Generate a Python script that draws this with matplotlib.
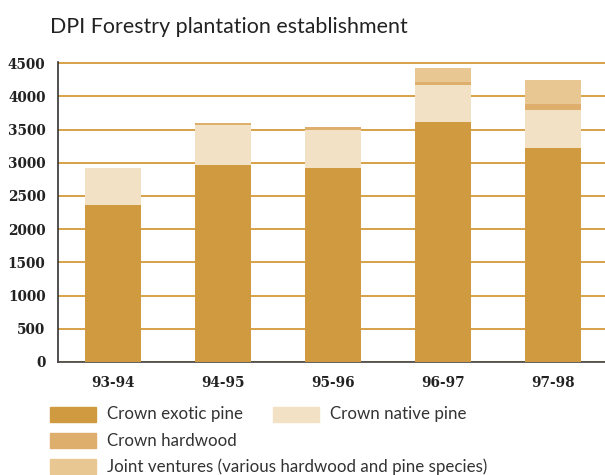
import matplotlib.pyplot as plt
import numpy as np
from matplotlib.patches import Rectangle

# planting figures (hectares) by financial year
years = ["93-94", "94-95", "95-96", "96-97", "97-98"]
exotic_pine = [2360, 2965, 2920, 3610, 3220]
native_pine = [560, 600, 570, 560, 575]
hardwood = [0, 30, 45, 45, 90]
joint_ventures = [0, 0, 0, 210, 360]

series = [exotic_pine, native_pine, hardwood, joint_ventures]
names = ["Crown exotic pine", "Crown native pine", "Crown hardwood",
         "Joint ventures (various hardwood and pine species)"]
colors = ["#d09b40", "#f3e1c5", "#ddae6c", "#e8c793"]

yticks = [0, 500, 1000, 1500, 2000, 2500, 3000, 3500, 4000, 4500]

fig = plt.figure(figsize=(6.05, 4.75), dpi=100)
ax = fig.add_axes([0.0959, 0.2379, 0.9041, 0.6307])

x = np.arange(len(years))
bottom = np.zeros(len(years))
for vals, c in zip(series, colors):
    ax.bar(x, vals, width=0.51, bottom=bottom, color=c, zorder=3)
    bottom += np.array(vals)

ax.set_xlim(-0.5, 4.47)
ax.set_ylim(0, 4510)
ax.set_yticks(yticks)
ax.set_xticks(x)
ax.set_xticklabels(years)
ax.yaxis.grid(True, color="#d39a3a", linewidth=1.3, zorder=1)
ax.set_axisbelow(True)

for s in ["top", "right"]:
    ax.spines[s].set_visible(False)
ax.spines["left"].set_color("#333333")
ax.spines["bottom"].set_color("#444444")
ax.spines["left"].set_linewidth(1.2)
ax.spines["bottom"].set_linewidth(1.2)

ax.tick_params(length=0)
ax.tick_params(axis="y", pad=9)
ax.tick_params(axis="x", pad=10)
for lab in ax.get_xticklabels() + ax.get_yticklabels():
    lab.set_fontfamily("DejaVu Serif")
    lab.set_fontweight("bold")
    lab.set_fontsize(9.8)
    lab.set_color("#222222")

fig.text(0.083, 0.93, "DPI Forestry plantation establishment",
         fontsize=15.4, family="Lato", color="#222222", va="baseline")

# legend drawn by hand: two entries on the first row, then one per row
slots = [(50, 407), (273, 407), (50, 433), (50, 459)]
for (px, py), name, c in zip(slots, names, colors):
    fig.add_artist(Rectangle((px / 605, 1 - (py + 15) / 475), 46 / 605, 15 / 475,
                             transform=fig.transFigure, color=c))
    fig.text((px + 57) / 605, 1 - (py + 7.5) / 475, name, fontsize=12.2,
             family="Lato", color="#333333", va="center")

fig.savefig("out.png", dpi=100)
